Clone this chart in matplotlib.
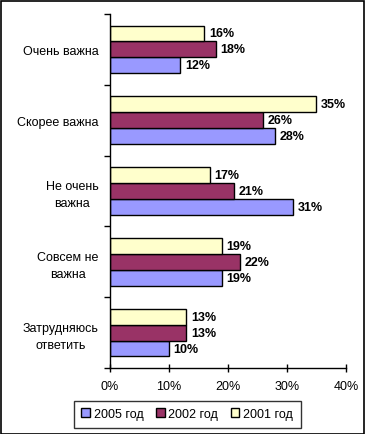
import matplotlib
matplotlib.use("Agg")
import matplotlib.pyplot as plt
import numpy as np
from matplotlib.patches import Rectangle

categories = ["Очень важна", "Скорее важна", "Не очень\nважна", "Совсем не\nважна", "Затрудняюсь\nответить"]
series_names = ["2005 год", "2002 год", "2001 год"]
v2005 = [12, 28, 31, 19, 10]
v2002 = [18, 26, 21, 22, 13]
v2001 = [16, 35, 17, 19, 13]
colors = ["#9999FF", "#993366", "#FFFFCC"]
xticks = [0, 10, 20, 30, 40]
xticklabels = ["0%", "10%", "20%", "30%", "40%"]

plt.rcParams['font.family'] = ['Liberation Sans', 'DejaVu Sans']
FS = 9

fig = plt.figure(figsize=(3.65, 4.35), dpi=100)
W, H = 365, 435
ax = fig.add_axes([109.5 / W, 1 - 369 / H, (346 - 109.5) / W, (369 - 15) / H])

n = len(categories)
y = np.arange(n)
bh = 0.225
offsets = [bh, 0, -bh]
vals = [v2005, v2002, v2001]
bars = []
for i, (name, v, c) in enumerate(zip(series_names, vals, colors)):
    b = ax.barh(y + offsets[i], v, height=bh, color=c, edgecolor="black", linewidth=1.0, label=name)
    bars.append(b)
    for yy, val in zip(y + offsets[i], v):
        ax.text(val + 0.8, yy, f"{val}%", va="center", ha="left", fontsize=FS, fontweight="bold")

ax.set_ylim(n - 0.5, -0.5)
ax.set_xlim(0, 40)
ax.set_xticks(xticks)
ax.set_xticklabels(xticklabels, fontsize=FS)
ax.set_yticks(np.arange(n + 1) - 0.5)
ax.set_yticklabels([])
ax.set_yticks(y, minor=True)
ax.set_yticklabels(categories, minor=True, fontsize=FS, ha="right", multialignment="center",
                   linespacing=1.5)
ax.tick_params(axis="y", which="minor", length=0, pad=8)
ax.tick_params(axis="y", which="major", length=4, direction="out", width=1)
ax.tick_params(axis="x", length=6, direction="inout", width=1, pad=6)
for s in ["top", "right"]:
    ax.spines[s].set_visible(False)
for s in ["left", "bottom"]:
    ax.spines[s].set_linewidth(1)

leg = ax.legend(handles=bars, labels=series_names, loc="center", bbox_to_anchor=(187 / W, 1 - 415 / H),
                bbox_transform=fig.transFigure, ncol=3, frameon=True, fancybox=False, fontsize=FS,
                handlelength=0.7, handleheight=0.7, handletextpad=0.3, columnspacing=1.0,
                borderpad=0.6, edgecolor="black")
leg.get_frame().set_linewidth(1)

fig.patches.append(Rectangle((0.5 / W, 0.5 / H), 1 - 2 / W, 1 - 2 / H, transform=fig.transFigure,
                             fill=False, edgecolor="black", linewidth=1.2))

fig.savefig("out.png", dpi=100)
